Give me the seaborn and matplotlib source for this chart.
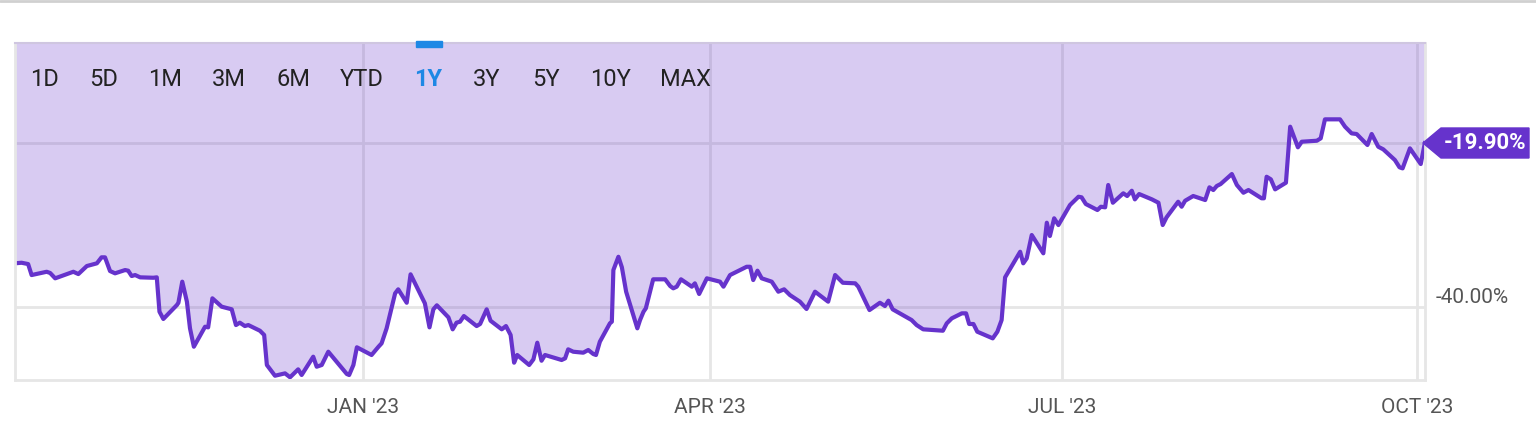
import numpy as np
import pandas as pd
import matplotlib.pyplot as plt
import seaborn as sns
from matplotlib.patches import Polygon, Rectangle
from matplotlib.lines import Line2D

# values: days since 2022-10-03 and % change
days = [0, 1.7, 3.4, 4.3, 8.2, 9.1, 10.4, 15.1, 16.4, 18.6, 21.2, 22.4, 23.3, 24.6, 25.9,
        28.5, 29.3, 30.2, 31.1, 32.4, 35.8, 36.7, 37.4, 38.4, 41.9, 42.3, 43.3, 44.5, 45.3,
        46.3, 49.2, 50.0, 51.1, 53.5, 56.1, 57.2, 58.2, 59.5, 60.4, 63.4, 64.5, 65.2, 67.3,
        69.9, 71.2, 73.3, 74.2, 77.2, 78.1, 79.4, 81.1, 85.9, 86.5, 87.6, 88.5, 92.3, 94.1,
        94.9, 96.2, 98.4, 99.2, 101.4, 102.4, 106.1, 107.3, 108.3, 109.2, 112.2, 113.3,
        114.3, 115.2, 116.2, 119.5, 120.4, 122.1, 123.1, 126.0, 127.1, 128.3, 129.2, 130.0,
        133.1, 134.2, 135.2, 136.3, 137.2, 141.5, 142.4, 143.2, 144.5, 147.1, 148.4, 149.7,
        150.4, 151.4, 154.0, 154.5, 154.9, 156.2, 157.1, 158.2, 161.1, 161.8, 162.7, 163.3,
        165.2, 168.3, 169.6, 170.4, 171.3, 172.4, 175.2, 176.0, 177.1, 179.1, 182.5, 183.4,
        185.1, 189.4, 190.3, 191.1, 192.2, 193.3, 195.9, 197.6, 199.1, 200.6, 203.2, 204.9,
        207.1, 210.5, 212.3, 214.3, 217.5, 218.3, 221.2, 223.9, 225.2, 226.1, 227.2, 232.1,
        233.4, 235.1, 240.2, 241.2, 242.5, 245.1, 246.2, 247.0, 248.1, 249.1, 253.1, 254.3,
        255.4, 256.3, 260.2, 261.0, 261.9, 263.2, 266.2, 267.1, 267.9, 269.0, 270.1, 273.1,
        275.3, 276.1, 277.2, 280.2, 281.1, 282.2, 283.0, 284.2, 286.9, 287.9, 289.1, 289.9,
        291.0, 294.3, 296.0, 297.1, 298.1, 301.1, 302.0, 302.9, 305.0, 308.1, 309.2, 310.2,
        311.1, 312.1, 315.0, 316.3, 318.0, 319.3, 322.7, 323.3, 324.0, 325.1, 326.2, 329.0,
        330.1, 332.1, 333.1, 337.0, 338.0, 339.1, 343.0, 344.3, 346.0, 347.3, 350.1, 351.2,
        352.9, 354.2, 357.2, 358.4, 359.2, 361.1, 363.9, 365.0]
pct = [-34.67, -34.60, -34.76, -36.10, -35.70, -35.85, -36.50, -35.70, -35.98, -35.00, -34.67,
       -33.94, -33.94, -35.61, -35.89, -35.49, -35.57, -36.22, -36.10, -36.38, -36.43, -36.38,
       -40.57, -41.46, -39.76, -39.48, -36.91, -39.35, -42.60, -44.84, -42.40, -42.48, -38.94,
       -39.96, -40.28, -42.20, -41.91, -42.32, -42.20, -42.89, -43.41, -47.07, -48.38, -48.09,
       -48.57, -47.60, -48.29, -46.06, -47.28, -47.07, -45.45, -48.17, -48.29, -47.07, -44.91,
       -45.85, -44.84, -44.43, -42.60, -38.33, -37.84, -39.48, -36.01, -39.55, -42.48, -40.28,
       -39.79, -41.26, -42.72, -41.91, -41.79, -41.10, -42.32, -42.07, -40.28, -41.67, -42.72,
       -42.32, -43.41, -46.79, -45.85, -47.07, -46.38, -44.35, -46.55, -45.85, -46.46, -46.26,
       -45.16, -45.45, -45.57, -45.24, -45.73, -45.85, -44.23, -41.99, -41.79, -35.49, -33.87,
       -35.16, -38.13, -42.60, -41.59, -40.57, -40.16, -36.62, -36.62, -37.44, -37.72, -37.52,
       -36.62, -37.52, -37.11, -38.41, -36.50, -36.91, -37.52, -36.10, -35.09, -35.09, -36.71,
       -35.57, -36.50, -36.91, -38.13, -37.84, -38.54, -39.35, -40.24, -38.13, -39.35, -36.10,
       -37.04, -37.11, -37.52, -40.37, -39.48, -39.88, -39.23, -40.28, -41.59, -42.20, -42.72,
       -42.89, -41.99, -41.38, -40.77, -40.77, -42.07, -42.07, -43.01, -43.82, -43.01, -41.59,
       -36.38, -33.26, -34.67, -34.06, -31.22, -33.45, -29.72, -31.34, -29.18, -30.00, -27.56,
       -26.55, -26.62, -27.44, -28.17, -27.77, -27.84, -25.12, -27.28, -26.13, -26.46, -25.82,
       -26.87, -26.22, -26.87, -27.28, -30.00, -29.06, -27.16, -27.77, -27.04, -26.46, -26.95,
       -25.40, -25.73, -25.24, -25.00, -23.78, -25.12, -26.06, -25.73, -26.74, -26.74, -24.11,
       -24.43, -25.65, -24.84, -18.01, -20.52, -19.84, -19.72, -19.43, -17.11, -17.11, -18.01,
       -18.82, -18.90, -20.24, -18.90, -20.45, -20.77, -22.07, -22.96, -23.09, -20.65, -22.56,
       -19.90]

ranges = ["1D", "5D", "1M", "3M", "6M", "YTD", "1Y", "3Y", "5Y", "10Y", "MAX"]
month_ticks = ["2023-01-01", "2023-04-01", "2023-07-01", "2023-10-01"]
month_labels = ["JAN '23", "APR '23", "JUL '23", "OCT '23"]
y_ticks = [-40, -20]
y_labels = ["-40.00%", ""]
last_label = "-19.90%"

W, H = 1536, 438
PURPLE = "#6633cc"
GRID = "#e6e6e6"


def px(x, y):
    return (x / W, 1 - y / H)


start = pd.Timestamp("2022-10-03")
df = pd.DataFrame({"date": start + pd.to_timedelta(days, unit="D"), "pct": pct})

sns.set_style("white")
plt.rcParams["font.family"] = ["Roboto", "DejaVu Sans"]

fig = plt.figure(figsize=(W / 100, H / 100), dpi=100)
ax = fig.add_axes([15 / W, 1 - 380 / H, 1410 / W, 337 / H])

ylo, yhi = -48.9, -7.8
ax.set_ylim(ylo, yhi)
ax.set_xlim(df["date"].min(), df["date"].max())

# grid first, fill over it (semi transparent)
for d in month_ticks:
    ax.axvline(pd.Timestamp(d), color=GRID, lw=2, zorder=0)
for v in y_ticks:
    ax.axhline(v, color=GRID, lw=2, zorder=0)

ax.fill_between(df["date"], df["pct"], yhi, color=PURPLE, alpha=0.25, lw=0, zorder=1)
sns.lineplot(data=df, x="date", y="pct", estimator=None, sort=False,
             color=PURPLE, lw=3, ax=ax, zorder=2)

ax.set_xlabel("")
ax.set_ylabel("")
ax.set_xticks([pd.Timestamp(d) for d in month_ticks])
ax.set_xticklabels(month_labels, fontsize=15, color="#555555")
ax.yaxis.tick_right()
ax.set_yticks(y_ticks)
ax.set_yticklabels(y_labels, fontsize=15, color="#555555")
for lbl in ax.get_yticklabels():
    lbl.set_va("bottom")
ax.tick_params(axis="x", length=0, pad=13)
ax.tick_params(axis="y", length=0, pad=8)

for side in ["left", "bottom", "right"]:
    ax.spines[side].set_color(GRID)
    ax.spines[side].set_linewidth(2)
ax.spines["top"].set_color("#cfc6e0")
ax.spines["top"].set_linewidth(1.5)

# range buttons
btn_x = [44, 104, 165, 229, 293, 362, 428, 487, 546, 610, 686]
for lab, bx in zip(ranges, btn_x):
    sel = lab == "1Y"
    fig.text(*px(bx, 80), lab, ha="center", va="center", fontsize=17,
             color="#1e88e5" if sel else "#222222",
             fontweight="bold" if sel else "normal")
fig.patches.append(Rectangle(px(416, 47), 26 / W, 6 / H, transform=fig.transFigure,
                             color="#1e88e5", zorder=5))

# top border of page
fig.add_artist(Line2D([0, 1], [1 - 1 / H, 1 - 1 / H], transform=fig.transFigure,
                      color="#d0d0d0", lw=2))

# last value tag
tag = [px(1423, 143), px(1441, 128), px(1529, 128), px(1529, 158), px(1441, 158)]
fig.patches.append(Polygon(tag, closed=True, transform=fig.transFigure,
                           color=PURPLE, zorder=5))
fig.text(*px(1485, 143), last_label, ha="center", va="center", fontsize=16,
         fontweight="bold", color="white", zorder=6)

fig.savefig("out.png", dpi=100)
